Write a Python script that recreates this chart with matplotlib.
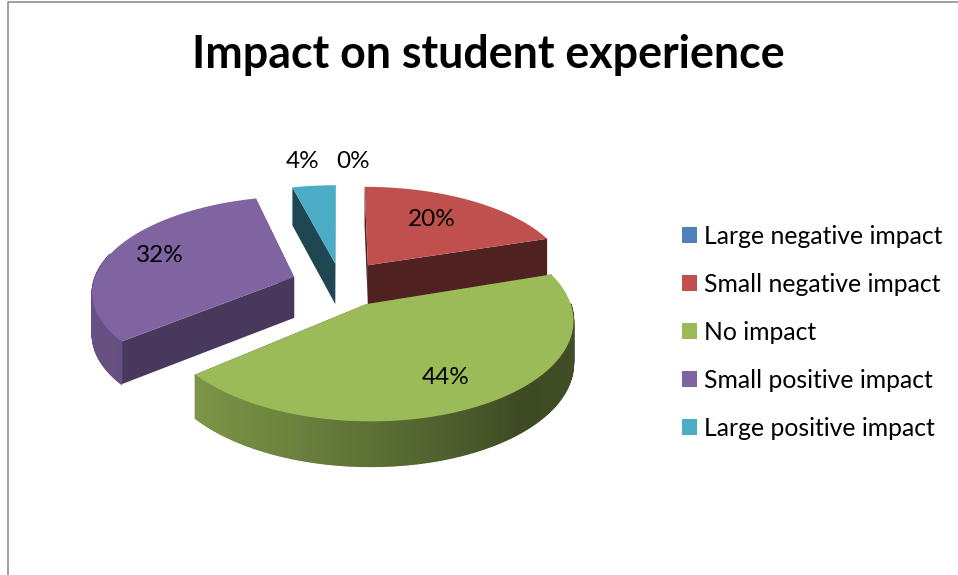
import numpy as np
import matplotlib
matplotlib.use("Agg")
import matplotlib.pyplot as plt
from matplotlib.collections import PolyCollection
from matplotlib.patches import Patch, Polygon
from matplotlib.colors import to_rgb

plt.rcParams["font.family"] = ["Lato", "DejaVu Sans"]

categories = ["Large negative impact", "Small negative impact", "No impact",
              "Small positive impact", "Large positive impact"]
shares = [0, 20, 44, 32, 4]
colors = ["#4F81BD", "#C0504D", "#9BBB59", "#8064A2", "#4BACC6"]
explode = [0.0, 0.24, 0.26, 0.24, 0.19]
x_scale = [1.0, 1.0, 0.975, 0.99, 1.0]
y_nudge = [0, 2, 1, 3, 0]
side_shade = [0.41, 0.41, 0.41, 0.56, 0.41]
label_pos = [(353, 162), (432, 220), (446, 378), (160, 256), (303, 162)]

# projection of the pie disk onto the page, in pixels
CX, CY = 340, 281
RX, RY = 203, 94
PERSP = 0.14
DEPTH = 41


def project(u, v):
    s = 1 / (1 + PERSP * v)
    return CX + RX * u * s, CY - RY * v * s, s


def wall_shade(theta):
    # clockwise degrees from twelve o'clock, darker towards the lower right
    return np.interp(theta, [90, 140, 160, 180, 200, 230, 290],
                     [0.42, 0.40, 0.50, 0.60, 0.70, 0.80, 0.82])


def shaded(color, k):
    return tuple(c * k for c in to_rgb(color))


fig = plt.figure(figsize=(9.58, 5.75), dpi=100)
ax = fig.add_axes([0, 0, 1, 1])
ax.set_xlim(0, 958)
ax.set_ylim(575, 0)
ax.axis("off")

# chart border, cut off on the right and at the bottom
ax.plot([8.5, 8.5, 958], [575, 2, 2], color="#868686", lw=1.1, solid_capstyle="butt")

# slice spans in degrees
ends = np.cumsum(shares) / sum(shares) * 360
starts = ends - np.array(shares) / sum(shares) * 360
mids = np.radians((starts + ends) / 2)

# farthest slices first so the nearer ones paint over them
for i in np.argsort(-np.cos(mids)):
    if shares[i] == 0:
        continue
    ou, ov = explode[i] * np.sin(mids[i]), explode[i] * np.cos(mids[i])
    thetas = np.linspace(starts[i], ends[i], 240)
    rad = np.radians(thetas)
    arc_x, arc_y, arc_s = project(ou + np.sin(rad), ov + np.cos(rad))
    tip_x, tip_y, tip_s = project(ou, ov)
    arc_x = tip_x + (arc_x - tip_x) * x_scale[i]
    arc_y = arc_y + y_nudge[i]
    tip_y = tip_y + y_nudge[i]
    drop = DEPTH * np.sqrt(arc_s)
    tip_drop = DEPTH * np.sqrt(tip_s)

    # flat side faces from the tip out to each end of the arc
    for j in (0, -1):
        face = [(tip_x, tip_y), (arc_x[j], arc_y[j]),
                (arc_x[j], arc_y[j] + drop[j]), (tip_x, tip_y + tip_drop)]
        ax.add_patch(Polygon(face, closed=True, fc=shaded(colors[i], side_shade[i]),
                             ec="none", zorder=2))

    # front of the rim only, as thin quads so the shading can vary along the arc
    quads, quad_colors = [], []
    for j in range(len(thetas) - 1):
        mid_theta = (thetas[j] + thetas[j + 1]) / 2
        if not 90 <= mid_theta <= 285:
            continue
        quads.append([(arc_x[j], arc_y[j]), (arc_x[j + 1], arc_y[j + 1]),
                      (arc_x[j + 1], arc_y[j + 1] + drop[j + 1]), (arc_x[j], arc_y[j] + drop[j])])
        quad_colors.append(shaded(colors[i], wall_shade(mid_theta)))
    if quads:
        ax.add_collection(PolyCollection(quads, facecolors=quad_colors, edgecolors=quad_colors,
                                         linewidths=1.0, zorder=2))

    top = [(tip_x, tip_y)] + list(zip(arc_x, arc_y))
    ax.add_patch(Polygon(top, closed=True, fc=colors[i], ec="none", zorder=2))

# percentage labels
for share, (x, y) in zip(shares, label_pos):
    ax.text(x, y, f"{share}%", fontsize=17.5, color="black", ha="center", va="center", zorder=5)

ax.text(488, 55, "Impact on student experience", fontsize=32.2, fontweight="bold",
        color="black", ha="center", va="center", zorder=5)

handles = [Patch(fc=c, ec="none") for c in colors]
ax.legend(handles, categories, loc="center left", bbox_to_anchor=(682, 332.5),
          bbox_transform=ax.transData, frameon=False, fontsize=17.8,
          handlelength=0.61, handleheight=0.61, handletextpad=0.28,
          labelspacing=1.01, borderpad=0, borderaxespad=0)

fig.savefig("out.png", dpi=100)
